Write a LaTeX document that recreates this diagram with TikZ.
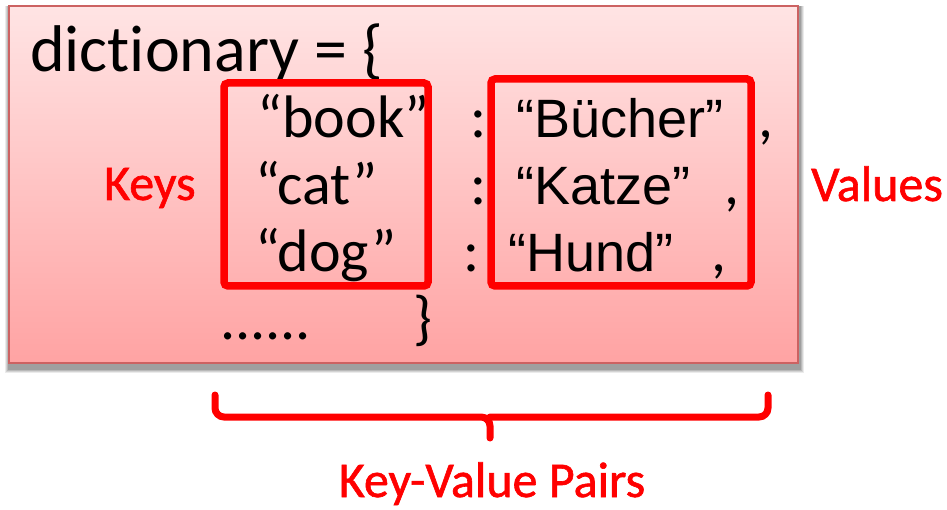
\documentclass[tikz,border=0pt]{standalone}
\usepackage{fontspec}
\setmainfont{Carlito}[Ligatures={NoCommon}]
\newfontfamily\arialf{Liberation Sans}
\newfontfamily\lblfont{Carlito}[FakeBold=1.2]
\definecolor{boxtop}{HTML}{FFE4E4}
\definecolor{boxbot}{HTML}{FFA3A3}
\definecolor{boxedge}{HTML}{CC6262}
\definecolor{hl}{HTML}{FF0000}
\tikzset{
  code/.style={anchor=base west, inner sep=0pt, font=\fontsize{60}{60}\selectfont},
  headline/.style={anchor=base west, inner sep=0pt, font=\fontsize{66}{66}\selectfont},
  val/.style={anchor=base west, inner sep=0pt, font=\arialf\fontsize{54}{54}\selectfont},
  lbl/.style={anchor=base west, inner sep=0pt, text=hl, font=\lblfont\fontsize{50}{50}\selectfont},
  frame/.style={draw=hl, line width=7.5pt, rounded corners=4pt},
  brace/.style={draw=hl, line width=7pt, rounded corners=9pt, line cap=round},
}
\begin{document}
\begin{tikzpicture}[x=1pt,y=-1pt]
\useasboundingbox (0,0) rectangle (947,510);
% soft shadow around the panel, heavier below
\foreach \d/\o in {4/0.08,3/0.10,2/0.12,1/0.14}
  \fill[black, opacity=\o] (9-\d,6) rectangle (798+\d+2,363+\d+6);
% panel
\shade[top color=boxtop, bottom color=boxbot] (9,6) rectangle (798,363);
\draw[boxedge, line width=1.5pt] (9,6) rectangle (798,363);

% code lines
\node[headline] (head) at (30,72) {dictionary = \{};
\node[code] (k1) at (257,138) {“book”};
\node[code] (k2) at (255,205) {“cat”};
\node[code] (k3) at (255,272) {“dog”};
\node[code] (c1) at (470,138) {:};
\node[code] (c2) at (470,205) {:};
\node[code] (c3) at (463,272) {:};
\node[val] (v1) at (516,138) {“Bücher”};
\node[val] (v2) at (516,205) {“Katze”};
\node[val] (v3) at (508,272) {“Hund”};
\node[code] (m1) at (758,138) {,};
\node[code] (m2) at (724,205) {,};
\node[code] (m3) at (711,272) {,};
\node[code] (dots) at (220,340) {......};
\node[code] (close) at (413,338) {\}};

% key and value frames
\draw[frame] (224,83) rectangle (428,286);
\draw[frame] (491,79) rectangle (751,286);

% labels
\node[lbl] (keys) at (104,200) {Keys};
\node[lbl] (values) at (811,201) {Values};

% brace under the pairs
\coordinate (bl) at (215,395);
\coordinate (br) at (768,395);
\coordinate (bm) at (490,417);
\coordinate (bt) at (490,438);
\draw[brace] (bl) |- (bm) -- (bt);
\draw[brace] (br) |- (bm);
\node[lbl, anchor=base] (pairs) at (492,497) {Key-Value Pairs};
\end{tikzpicture}
\end{document}
